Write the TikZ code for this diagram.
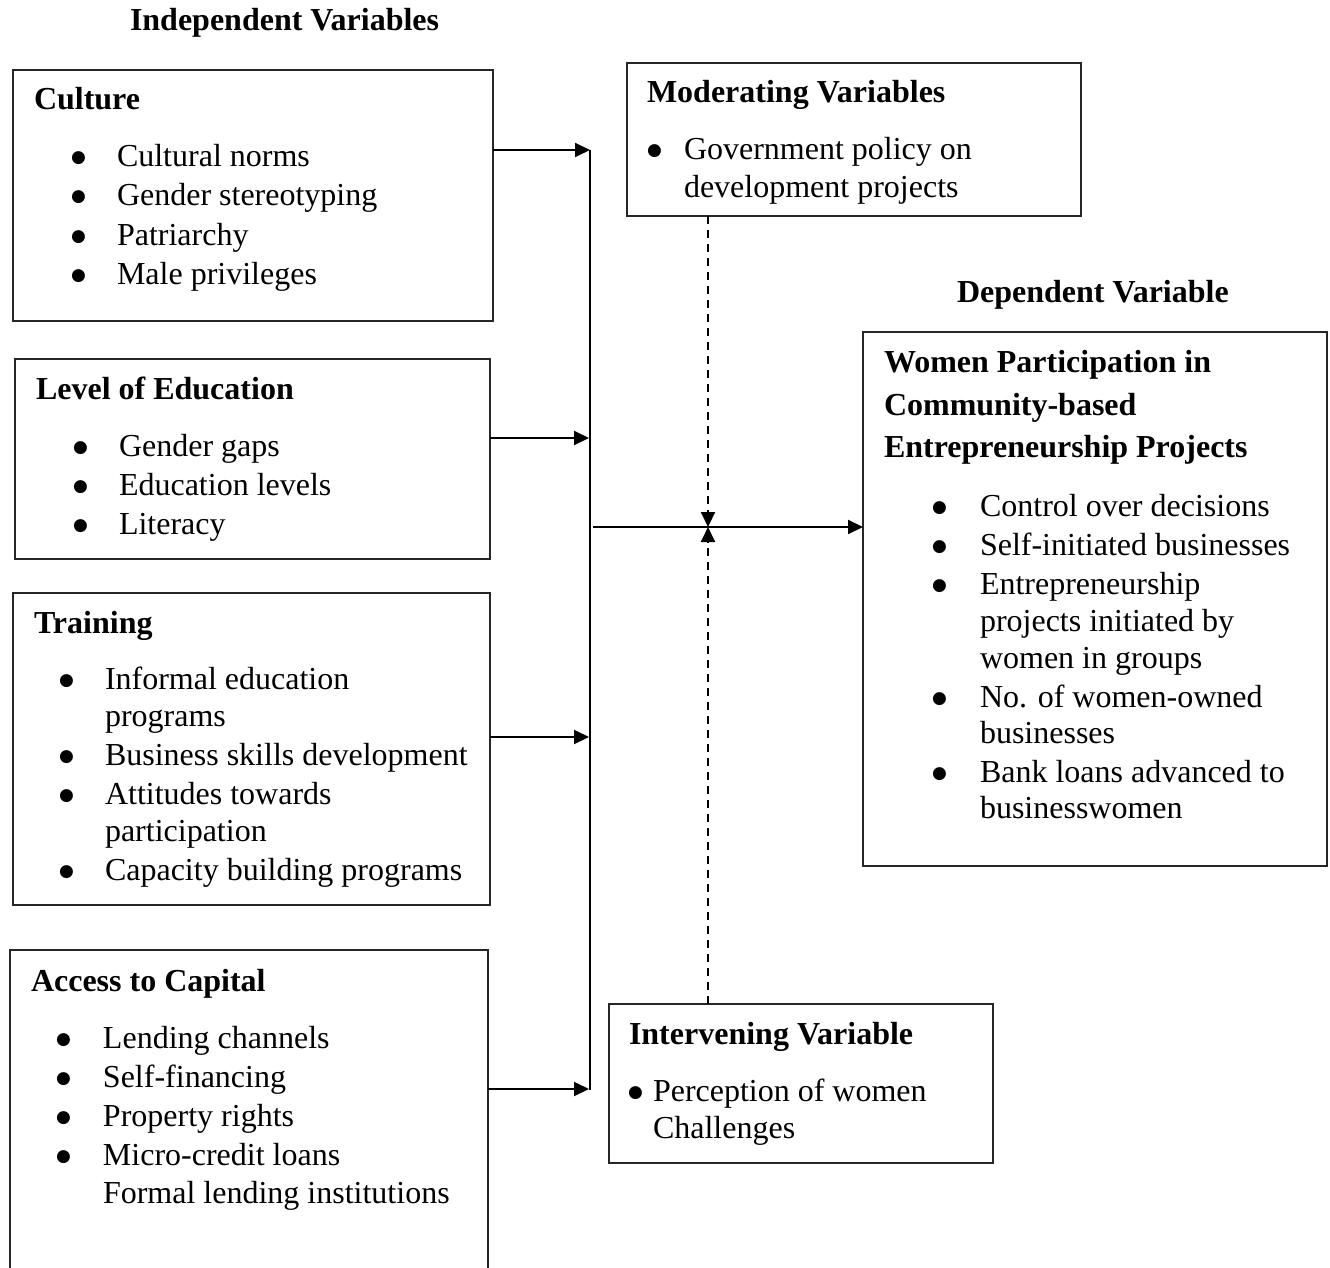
\documentclass[tikz,border=0pt]{standalone}
\usepackage{fontspec}
\setmainfont{Liberation Serif}
\newfontfamily\djv{DejaVu Sans}
\usetikzlibrary{arrows.meta}
\newcommand{\bl}[1]{\makebox[#1][l]{\raisebox{4pt}{\fontsize{17}{17}\selectfont\djv ●}}}
\begin{document}
\begin{tikzpicture}[x=1pt,y=-1pt,
  box/.style={draw=black!85, line width=1.5pt, anchor=north west, inner sep=0pt, outer sep=0pt},
  txt/.style={anchor=base west, inner sep=0pt, outer sep=0pt, font=\fontsize{32}{38}\selectfont},
  ttl/.style={anchor=base west, inner sep=0pt, outer sep=0pt, font=\fontsize{32}{38}\selectfont\bfseries},
  arr/.style={line width=2pt, -{Triangle[length=15pt,width=14pt]}},
  dsh/.style={line width=2pt, dash pattern=on 8pt off 6pt, -{Triangle[length=15pt,width=14pt]}},
  bus/.style={line width=2pt}]
\useasboundingbox (0,0) rectangle (1330,1268);
\clip (0,0) rectangle (1330,1268);
\fill[white] (0,0) rectangle (1330,1268);

% headings
\node[ttl] (indep) at (130,31) {Independent Variables};
\node[ttl] (deplab) at (957,302) {Dependent Variable};

% boxes
\node[box, minimum width=480pt, minimum height=251pt] (culture) at (13,70) {};
\node[box, minimum width=475pt, minimum height=200pt] (edu) at (15,359) {};
\node[box, minimum width=477pt, minimum height=312pt] (train) at (13,593) {};
\node[box, minimum width=478pt, minimum height=340pt] (cap) at (10,950) {};
\node[box, minimum width=454pt, minimum height=153pt] (mod) at (627,63) {};
\node[box, minimum width=464pt, minimum height=534pt] (dep) at (863,332) {};
\node[box, minimum width=384pt, minimum height=159pt] (int) at (609,1004) {};

% Culture
\node[ttl] (cT) at (34,110) {Culture};
\node[txt] (c1) at (71,167) {\bl{46pt}Cultural norms};
\node[txt] (c2) at (71,206) {\bl{46pt}Gender stereotyping};
\node[txt] (c3) at (71,245) {\bl{46pt}Patriarchy};
\node[txt] (c4) at (71,284) {\bl{46pt}Male privileges};

% Education
\node[ttl] (eT) at (36,399) {Level of Education};
\node[txt] (e1) at (73,456) {\bl{46pt}Gender gaps};
\node[txt] (e2) at (73,495) {\bl{46pt}Education levels};
\node[txt] (e3) at (73,534) {\bl{46pt}Literacy};

% Training
\node[ttl] (tT) at (34,633) {Training};
\node[txt] (t1) at (59,689) {\bl{46pt}Informal education};
\node[txt] (t1b) at (105,726) {programs};
\node[txt] (t2) at (59,765) {\bl{46pt}Business skills development};
\node[txt] (t3) at (59,804) {\bl{46pt}Attitudes towards};
\node[txt] (t3b) at (105,841) {participation};
\node[txt] (t4) at (59,880) {\bl{46pt}Capacity building programs};

% Capital
\node[ttl] (kT) at (31,991) {Access to Capital};
\node[txt] (k1) at (56,1048) {\bl{47pt}Lending channels};
\node[txt] (k2) at (56,1087) {\bl{47pt}Self-financing};
\node[txt] (k3) at (56,1126) {\bl{47pt}Property rights};
\node[txt] (k4) at (56,1165) {\bl{47pt}Micro-credit loans};
\node[txt] (k5) at (103,1203) {Formal lending institutions};

% Moderating
\node[ttl] (mT) at (647,103) {Moderating Variables};
\node[txt] (m1) at (647,160) {\bl{37pt}Government policy on};
\node[txt] (m1b) at (684,197) {development projects};

% Dependent
\node[ttl] (dT1) at (884,372) {Women Participation in};
\node[ttl] (dT2) at (884,415) {Community-based};
\node[ttl] (dT3) at (884,457) {Entrepreneurship Projects};
\node[txt] (d1) at (932,516) {\bl{48pt}Control over decisions};
\node[txt] (d2) at (932,555) {\bl{48pt}Self-initiated businesses};
\node[txt] (d3) at (932,594) {\bl{48pt}Entrepreneurship};
\node[txt] (d3b) at (980,631) {projects initiated by};
\node[txt] (d3c) at (980,668) {women in groups};
\node[txt] (d4) at (932,707) {\bl{48pt}No. of women-owned};
\node[txt] (d4b) at (980,743) {businesses};
\node[txt] (d5) at (932,782) {\bl{48pt}Bank loans advanced to};
\node[txt] (d5b) at (980,818) {businesswomen};

% Intervening
\node[ttl] (iT) at (629,1044) {Intervening Variable};
\node[txt] (i1) at (628,1101) {\bl{25pt}Perception of women};
\node[txt] (i1b) at (653,1138) {Challenges};

% connector coordinates
\coordinate (b1) at (590,150);
\coordinate (b2) at (589,438);
\coordinate (b3) at (589,737);
\coordinate (b4) at (589,1089);
\coordinate (bbot) at (590,1090);
\coordinate (hs) at (593,527);
\coordinate (mx) at (708,527);

% bus
\draw[bus] (b1) -- (bbot);
\draw[arr] (culture.east |- b1) -- (b1);
\draw[arr] (edu.east |- b2) -- (b2);
\draw[arr] (train.east |- b3) -- (b3);
\draw[arr] (cap.east |- b4) -- (b4);

% to dependent
\draw[arr] (hs) -- (dep.west |- hs);

% dashed
\draw[dsh] (mod.south -| mx) -- (mx);
\draw[dsh] (int.north -| mx) -- (mx);
\end{tikzpicture}
\end{document}
